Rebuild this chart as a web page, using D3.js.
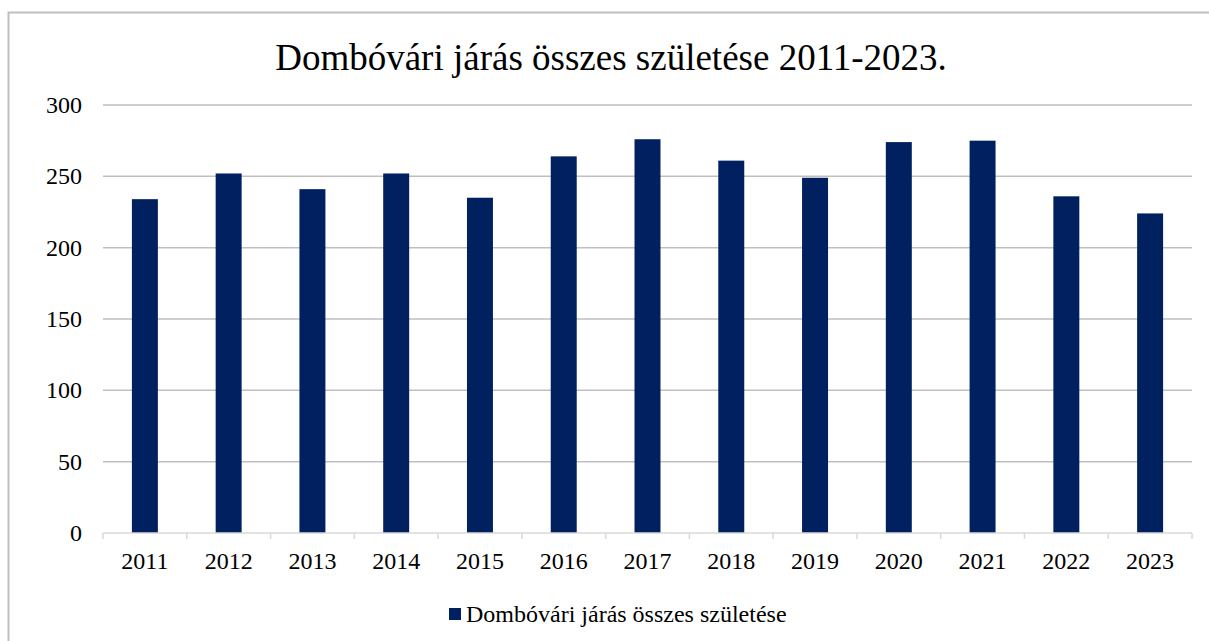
<!DOCTYPE html>
<html>
<head>
<meta charset="utf-8">
<script src="https://cdn.jsdelivr.net/npm/d3@7"></script>
<style>
  body { margin: 0; background: #fff; }
  text { font-family: "Liberation Serif", "Times New Roman", serif; fill: #000; }
</style>
</head>
<body>
<div id="chart"></div>
<script>
const years = ["2011", "2012", "2013", "2014", "2015", "2016", "2017", "2018", "2019", "2020", "2021", "2022", "2023"];
const births = [234, 252, 241, 252, 235, 264, 276, 261, 249, 274, 275, 236, 224];
const yTicks = [0, 50, 100, 150, 200, 250, 300];
const seriesName = "Dombóvári járás összes születése";
const title = "Dombóvári járás összes születése 2011-2023.";

const WIDTH = 1209, HEIGHT = 641;
const LEFT = 103, RIGHT = 1192, TOP = 105, BOTTOM = 533;
const BAR_COLOR = "#002060";

const svg = d3.select("#chart").append("svg")
  .attr("width", WIDTH).attr("height", HEIGHT);

// chart frame
svg.append("rect")
  .attr("x", 8.5).attr("y", 12.5)
  .attr("width", 1210).attr("height", 640)
  .attr("fill", "#fff")
  .attr("stroke", "#bfbfbf").attr("stroke-width", 2);

svg.append("text")
  .attr("x", 611).attr("y", 70)
  .attr("text-anchor", "middle")
  .style("font-size", "37px")
  .text(title);

const x = d3.scaleBand()
  .domain(years)
  .range([LEFT, RIGHT])
  .paddingInner(0.69)
  .paddingOuter(0.345);

const y = d3.scaleLinear()
  .domain([0, 300])
  .range([BOTTOM, TOP]);

// horizontal grid
svg.append("g")
  .selectAll("line")
  .data(yTicks.filter(d => d > 0))
  .join("line")
  .attr("x1", LEFT).attr("x2", RIGHT)
  .attr("y1", d => y(d)).attr("y2", d => y(d))
  .attr("stroke", "#bfbfbf").attr("stroke-width", 1.5);

// y labels
svg.append("g")
  .selectAll("text")
  .data(yTicks)
  .join("text")
  .attr("x", 82)
  .attr("y", d => y(d))
  .attr("dy", "0.33em")
  .attr("text-anchor", "end")
  .style("font-size", "24px")
  .text(d => d);

// bars
svg.append("g")
  .selectAll("rect")
  .data(years)
  .join("rect")
  .attr("x", d => x(d))
  .attr("width", x.bandwidth())
  .attr("y", (d, i) => y(births[i]))
  .attr("height", (d, i) => y(0) - y(births[i]))
  .attr("fill", BAR_COLOR);

// x axis line and ticks between categories
const step = x.step();
const axis = svg.append("g");
axis.append("line")
  .attr("x1", LEFT).attr("x2", RIGHT)
  .attr("y1", BOTTOM).attr("y2", BOTTOM)
  .attr("stroke", "#d9d9d9").attr("stroke-width", 1.5);
axis.selectAll(".tick")
  .data(d3.range(years.length + 1))
  .join("line")
  .attr("x1", i => LEFT + i * step).attr("x2", i => LEFT + i * step)
  .attr("y1", BOTTOM).attr("y2", BOTTOM + 6)
  .attr("stroke", "#d9d9d9").attr("stroke-width", 1.5);

axis.selectAll("text")
  .data(years)
  .join("text")
  .attr("x", d => x(d) + x.bandwidth() / 2)
  .attr("y", 569)
  .attr("text-anchor", "middle")
  .style("font-size", "24px")
  .text(d => d);

// legend
const legend = svg.append("g");
legend.append("rect")
  .attr("x", 449).attr("y", 608)
  .attr("width", 12).attr("height", 12)
  .attr("fill", BAR_COLOR);
legend.append("text")
  .attr("x", 466).attr("y", 622)
  .style("font-size", "24px")
  .text(seriesName);
</script>
</body>
</html>
